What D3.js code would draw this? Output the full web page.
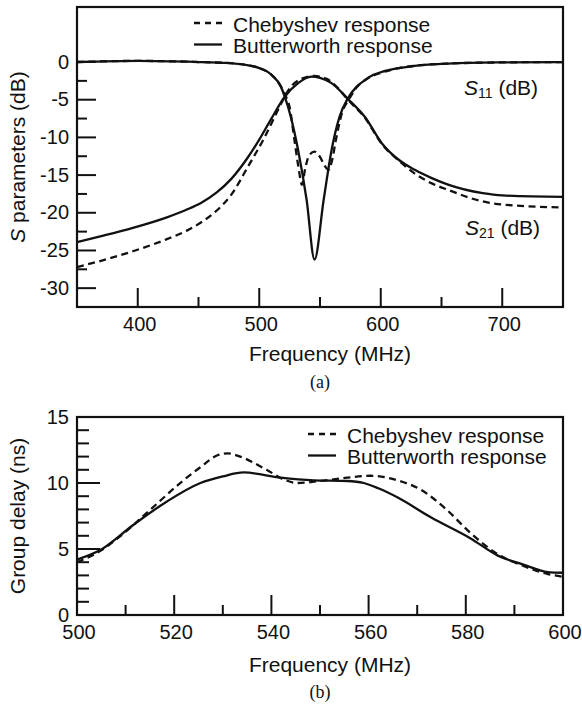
<!DOCTYPE html>
<html>
<head>
<meta charset="utf-8">
<script src="https://cdn.jsdelivr.net/npm/d3@7"></script>
<style>
  body { margin: 0; background: #fff; }
  svg { display: block; }
  text { font-family: "Liberation Sans", Arial, sans-serif; fill: #111; }
</style>
</head>
<body>
<div id="chart"></div>
<script>
// ---- (a) S parameters ----
var s11ButterFreq = [350, 400, 450, 470, 480, 490, 500, 507, 512, 517, 521, 526, 532, 539, 545.5, 553, 559.5, 566, 573, 580, 587, 594, 601, 615, 628, 656, 700, 750];
var s11ButterDb   = [0, 0.15, 0, -0.1, -0.2, -0.4, -0.8, -1.3, -2.0, -3.0, -4.6, -7.3, -11.7, -18.3, -26.2, -18.3, -11.7, -7.3, -4.8, -3.3, -2.4, -1.7, -1.3, -0.8, -0.5, -0.2, -0.05, 0];

var s11ChebyFreq = [350, 400, 450, 480, 500, 512, 518, 522, 525, 529, 533, 535, 538, 541, 545.5, 550, 554, 557, 560, 563, 568, 574, 580, 590, 601, 615, 628, 656, 700, 750];
var s11ChebyDb   = [0, 0.15, 0, -0.2, -0.8, -2.0, -3.3, -4.6, -6.0, -10.4, -14.7, -16.3, -14.0, -12.4, -11.9, -12.6, -13.8, -14.3, -13.0, -10.4, -6.8, -4.9, -3.4, -2.1, -1.4, -0.8, -0.5, -0.2, -0.05, 0];

var s21ButterFreq = [350, 370, 396, 424, 440, 452, 465, 477, 490, 500, 510, 521, 532, 543, 550, 559.5, 573, 587, 601, 615, 628, 642, 656, 684, 700, 750];
var s21ButterDb   = [-23.9, -23.1, -22.0, -20.6, -19.6, -18.7, -17.3, -15.5, -12.8, -10.3, -7.5, -4.6, -2.8, -1.95, -2.1, -2.8, -4.9, -7.3, -10.8, -13.0, -14.3, -15.4, -16.3, -17.4, -17.7, -17.9];

var s21ChebyFreq = [350, 369, 396, 424, 440, 452, 465, 477, 491, 504, 512, 518, 525, 535, 545, 555, 565, 573, 587, 601, 615, 628, 642, 656, 684, 700, 750];
var s21ChebyDb   = [-27.2, -26.4, -25.1, -23.5, -22.4, -21.3, -19.7, -17.6, -13.8, -10.1, -7.5, -5.5, -3.5, -2.2, -1.85, -2.2, -3.5, -5.0, -7.4, -10.9, -13.1, -14.8, -16.1, -17.0, -18.5, -18.9, -19.3];

var aXMajor = [400, 500, 600, 700];
var aXMinor = [450, 550, 650];
var aYMajor = [-30, -25, -20, -15, -10, -5, 0];
var aYMinor = [-27.5, -22.5, -17.5, -12.5, -7.5, -2.5];

// ---- (b) group delay ----
var gdButterFreq = [500, 504.7, 511.5, 518.5, 525.4, 530, 534.3, 541.9, 548.7, 555.6, 559, 562, 566, 572.8, 581, 586.6, 592, 596.9, 600];
var gdButterNs   = [4.2, 4.9, 6.8, 8.6, 10.0, 10.5, 10.8, 10.4, 10.2, 10.15, 10.0, 9.6, 8.9, 7.4, 5.8, 4.5, 3.8, 3.25, 3.2];

var gdChebyFreq = [500, 505, 509, 515, 521.9, 525.4, 528.9, 530.9, 533.6, 539, 543, 545.4, 550, 555.6, 560.4, 566, 570.7, 576, 581, 586.6, 592, 596.9, 600];
var gdChebyNs   = [4.0, 4.9, 6.0, 7.95, 10.2, 11.2, 12.1, 12.25, 12.0, 11.0, 10.2, 10.0, 10.15, 10.4, 10.55, 10.2, 9.5, 8.0, 6.2, 4.6, 3.7, 3.1, 2.9];

var bXMajor = [500, 520, 540, 560, 580, 600];
var bXMinor = [510, 530, 550, 570, 590];
var bYMajor = [0, 5, 10, 15];
var bYMinor = [1, 2, 3, 4, 6, 7, 8, 9, 11, 12, 13, 14];

var legendNames = ["Chebyshev response", "Butterworth response"];

var svg = d3.select("#chart").append("svg")
    .attr("width", 582)
    .attr("height", 710);

function zip(xs, ys) {
  return xs.map(function (d, i) { return [d, ys[i]]; });
}

function drawPanel(opt) {
  var x = d3.scaleLinear().domain(opt.xDomain).range([77, 563]);
  var y = d3.scaleLinear().domain(opt.yDomain).range([opt.bottom, opt.top]);
  var g = svg.append("g");

  var line = d3.line()
      .x(function (d) { return x(d[0]); })
      .y(function (d) { return y(d[1]); })
      .curve(d3.curveMonotoneX);

  opt.series.forEach(function (s) {
    g.append("path")
        .datum(zip(s.f, s.v))
        .attr("d", line)
        .attr("fill", "none")
        .attr("stroke", "#111")
        .attr("stroke-width", 2.3)
        .attr("stroke-dasharray", s.dashed ? "7,4.5" : null);
  });

  // inward ticks
  function xTicks(vals, len) {
    g.selectAll(null).data(vals).enter().append("line")
        .attr("x1", function (d) { return x(d); }).attr("x2", function (d) { return x(d); })
        .attr("y1", opt.bottom).attr("y2", opt.bottom - len)
        .attr("stroke", "#111").attr("stroke-width", 2);
  }
  function yTicks(vals, len) {
    g.selectAll(null).data(vals).enter().append("line")
        .attr("y1", function (d) { return y(d); }).attr("y2", function (d) { return y(d); })
        .attr("x1", 77).attr("x2", 77 + len)
        .attr("stroke", "#111").attr("stroke-width", 2);
  }
  xTicks(opt.xMajor, opt.xMajLen);
  xTicks(opt.xMinor, opt.xMinLen);
  yTicks(opt.yMajor, opt.yMajLen);
  yTicks(opt.yMinor, opt.yMinLen);

  g.selectAll(null).data(opt.xMajor).enter().append("text")
      .attr("x", function (d) { return x(d) + 2; })
      .attr("y", opt.bottom + 24)
      .attr("text-anchor", "middle").attr("font-size", 20)
      .text(function (d) { return String(d); });
  g.selectAll(null).data(opt.yMajor).enter().append("text")
      .attr("x", 69)
      .attr("y", function (d) { return y(d) + 6.5; })
      .attr("text-anchor", "end").attr("font-size", 20)
      .text(function (d) { return String(d); });

  g.append("rect")
      .attr("x", 77).attr("y", opt.top)
      .attr("width", 563 - 77).attr("height", opt.bottom - opt.top)
      .attr("fill", "none").attr("stroke", "#111").attr("stroke-width", 2.2);

  // legend
  legendNames.forEach(function (name, i) {
    var ly = opt.legendY + i * 21.5;
    g.append("line")
        .attr("x1", opt.legendX).attr("x2", opt.legendX + 28)
        .attr("y1", ly - 8.5).attr("y2", ly - 8.5)
        .attr("stroke", "#111").attr("stroke-width", 2.3)
        .attr("stroke-dasharray", i === 0 ? "6,5" : null);
    g.append("text")
        .attr("x", opt.legendX + 39).attr("y", ly)
        .attr("font-size", 21)
        .text(name);
  });

  // axis titles
  g.append("text")
      .attr("x", 330).attr("y", opt.xTitleY)
      .attr("text-anchor", "middle").attr("font-size", 21)
      .text("Frequency (MHz)");

  var yt = g.append("text")
      .attr("transform", "translate(25," + ((opt.top + opt.bottom) / 2) + ") rotate(-90)")
      .attr("text-anchor", "middle").attr("font-size", 21);
  opt.yTitle(yt);

  g.append("text")
      .attr("x", 320).attr("y", opt.captionY)
      .attr("text-anchor", "middle").attr("font-size", 18)
      .style("font-family", "Liberation Serif, Times New Roman, serif")
      .text(opt.caption);

  return { g: g, x: x, y: y };
}

var a = drawPanel({
  xDomain: [350, 750], yDomain: [-32.5, 7.3], top: 7, bottom: 307,
  series: [
    { f: s11ChebyFreq, v: s11ChebyDb, dashed: true },
    { f: s21ChebyFreq, v: s21ChebyDb, dashed: true },
    { f: s11ButterFreq, v: s11ButterDb, dashed: false },
    { f: s21ButterFreq, v: s21ButterDb, dashed: false }
  ],
  xMajor: aXMajor, xMinor: aXMinor, yMajor: aYMajor, yMinor: aYMinor,
  xMajLen: 19, xMinLen: 10, yMajLen: 19, yMinLen: 10,
  legendX: 194, legendY: 31.5,
  xTitleY: 361, captionY: 388, caption: "(a)",
  yTitle: function (t) {
    t.append("tspan").attr("font-style", "italic").text("S");
    t.append("tspan").text(" parameters (dB)");
  }
});

function sLabel(g, xPos, yPos, sub) {
  var t = g.append("text").attr("x", xPos).attr("y", yPos).attr("font-size", 21);
  t.append("tspan").attr("font-style", "italic").text("S");
  t.append("tspan").attr("font-size", 14).attr("dy", 3).text(sub);
  t.append("tspan").attr("dy", -3).text(" (dB)");
}
sLabel(a.g, 464, 95, "11");
sLabel(a.g, 465, 235, "21");

drawPanel({
  xDomain: [500, 600], yDomain: [0, 15], top: 417, bottom: 615,
  series: [
    { f: gdChebyFreq, v: gdChebyNs, dashed: true },
    { f: gdButterFreq, v: gdButterNs, dashed: false }
  ],
  xMajor: bXMajor, xMinor: bXMinor, yMajor: bYMajor, yMinor: bYMinor,
  xMajLen: 20, xMinLen: 10, yMajLen: 23, yMinLen: 12,
  legendX: 308, legendY: 442.5,
  xTitleY: 672, captionY: 698, caption: "(b)",
  yTitle: function (t) { t.text("Group delay (ns)"); }
});
</script>
</body>
</html>
